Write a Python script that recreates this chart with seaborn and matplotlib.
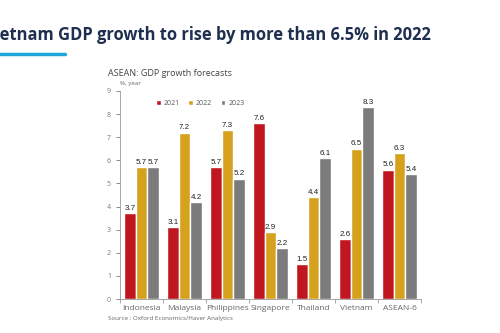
import numpy as np
import pandas as pd
import matplotlib
matplotlib.use("Agg")
import matplotlib.pyplot as plt
import seaborn as sns
from matplotlib.ticker import FixedLocator

# data
countries = ["Indonesia", "Malaysia", "Philippines", "Singapore", "Thailand", "Vietnam", "ASEAN-6"]
years = ["2021", "2022", "2023"]
gdp_2021 = [3.7, 3.1, 5.7, 7.6, 1.5, 2.6, 5.6]
gdp_2022 = [5.7, 7.2, 7.3, 2.9, 4.4, 6.5, 6.3]
gdp_2023 = [5.7, 4.2, 5.2, 2.2, 6.1, 8.3, 5.4]

df = pd.DataFrame({
    "Country": countries * 3,
    "Year": [y for y in years for _ in countries],
    "Growth": gdp_2021 + gdp_2022 + gdp_2023,
})

colors = ["#c0161f", "#d6a21e", "#7b7b7b"]

sns.set_style("white")
plt.rcParams["font.family"] = ["Open Sans", "DejaVu Sans"]

fig = plt.figure(figsize=(5, 3.33), dpi=100)
ax = fig.add_axes([0.24, 0.102, 0.602, 0.625])

sns.barplot(data=df, x="Country", y="Growth", hue="Year", palette=colors,
            order=countries, hue_order=years, width=0.8, saturation=1, ax=ax)

for c in ax.containers:
    ax.bar_label(c, fmt="%.1f", padding=1, fontsize=5.8, color="#222222",
                 family="Liberation Sans")

ax.set_ylim(0, 9)
ax.set_xlim(-0.5, len(countries) - 0.5)
ax.set_yticks(range(10))
ax.set_xlabel("")
ax.set_ylabel("")
ax.tick_params(axis="y", labelsize=5, colors="#777777", length=3, width=0.6, direction="out", left=True)
ax.tick_params(axis="x", which="major", labelsize=6, labelcolor="#666666", length=0, pad=4)
ax.xaxis.set_minor_locator(FixedLocator(np.arange(-0.5, len(countries), 1)))
ax.tick_params(axis="x", which="minor", length=3, width=0.6, color="#999999", bottom=True)
for s in ["top", "right"]:
    ax.spines[s].set_visible(False)
for s in ["left", "bottom"]:
    ax.spines[s].set_color("#999999")
    ax.spines[s].set_linewidth(0.6)

leg = ax.legend(loc="upper left", bbox_to_anchor=(0.1, 0.985), ncol=3, frameon=False,
                fontsize=5, handlelength=0.7, handleheight=0.7, columnspacing=1.2,
                handletextpad=0.4)
for t in leg.get_texts():
    t.set_color("#555555")

# title: the reference slide cuts off the first letters ("Vi") at the left edge
title = "Vietnam GDP growth to rise by more than 6.5% in 2022"
r = fig.canvas.get_renderer()
probe = fig.text(0, 0, title, fontsize=13, fontweight="bold")
full_w = probe.get_window_extent(r).width
probe.set_text("Vi")
vi_w = probe.get_window_extent(r).width
probe.remove()
fs = 13 * 430 / (full_w - vi_w)
vi_w = vi_w * fs / 13
fig.text(-vi_w / 500, 0.895, title, fontsize=fs, fontweight="bold", color="#1f2f4f",
         va="center", ha="left")
fig.add_artist(plt.Line2D([0, 0.13], [0.838, 0.838], color="#1ea6da", linewidth=2.5))
fig.text(0.216, 0.78, "ASEAN: GDP growth forecasts", fontsize=6.5, color="#444444", va="center")
fig.text(0.24, 0.748, "%, year", fontsize=4.5, color="#666666", va="center")
fig.text(0.216, 0.045, "Source : Oxford Economics/Haver Analytics", fontsize=4.5, color="#666666", va="center")

fig.savefig("out.png", dpi=100)
